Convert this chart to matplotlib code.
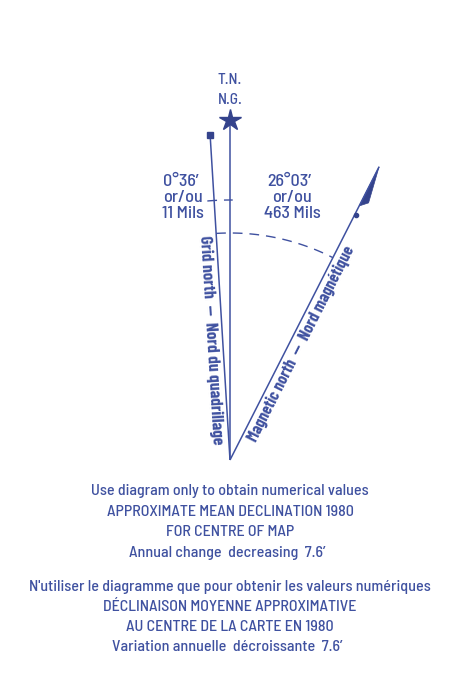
import numpy as np
import matplotlib
matplotlib.use("Agg")
import matplotlib.pyplot as plt
from matplotlib.patches import Polygon

# ---- data ----
line_names = ["Grid north", "True north", "Magnetic north"]
line_angles = [-3.5, 0.0, 26.95]          # degrees clockwise from true north (diagram, not to scale)
line_lengths = [326, 340, 329]            # diagram lengths
grid_label = ["0°36′", "or/ou", "11 Mils"]
mag_label = ["26°03′", "or/ou", "463 Mils"]
top_label = ["T.N.", "N.G."]
grid_axis_text = "Grid north  —  Nord du quadrillage"
mag_axis_text = "Magnetic north  —  Nord magnétique"
notes_en = ["Use diagram only to obtain numerical values",
            "APPROXIMATE MEAN DECLINATION 1980",
            "FOR CENTRE OF MAP",
            "Annual change  decreasing  7.6′"]
notes_fr = ["N'utiliser le diagramme que pour obtenir les valeurs numériques",
            "DÉCLINAISON MOYENNE APPROXIMATIVE",
            "AU CENTRE DE LA CARTE EN 1980",
            "Variation annuelle  décroissante  7.6′"]

BLUE = "#3f51a0"
DARK = "#34438c"
FONT = ["Barlow Semi Condensed", "DejaVu Sans"]
BFONT = ["Barlow Condensed", "DejaVu Sans"]

fig = plt.figure(figsize=(4.70, 6.77), dpi=100)
ax = fig.add_axes([0, 0, 1, 1])
ax.set_xlim(0, 470)
ax.set_ylim(677, 0)
ax.axis("off")

vx, vy = 230, 460

def pt(angle, r):
    a = np.radians(angle)
    return vx + r * np.sin(a), vy - r * np.cos(a)

ends = []
for ang, L in zip(line_angles, line_lengths):
    x1, y1 = pt(ang, L)
    ends.append((x1, y1))
    ax.plot([vx, x1], [vy, y1], color=BLUE, lw=1.1, solid_capstyle="butt")

# markers
ax.plot(*ends[0], marker="s", ms=4.5, color=DARK)
ax.plot(*ends[1], marker="*", ms=16, color=DARK, mec=DARK)

# half arrow on magnetic line
ang = line_angles[2]
L = line_lengths[2]
a = np.radians(ang)
u = np.array([np.sin(a), -np.cos(a)])
n = np.array([np.cos(a), np.sin(a)])
base = np.array([vx, vy])
poly = [base + u * L, base + u * (L - 37) + n * 7, base + u * (L - 44)]
ax.add_patch(Polygon(poly, closed=True, color=DARK, lw=0.5))
bump = base + u * (L - 53) + n * 1.5
ax.plot(*bump, marker="o", ms=3, color=DARK)

# dashed arcs
for r, a0, a1 in [(260, line_angles[0] - 1.5, line_angles[1] + 0.6),
                  (227, line_angles[0], line_angles[2])]:
    th = np.radians(np.linspace(a0, a1, 100))
    ax.plot(vx + r * np.sin(th), vy - r * np.cos(th), color=BLUE, lw=1.0,
            dashes=(7, 5))

# labels
kw = dict(ha="center", va="center", color=BLUE, family=FONT, fontweight="medium")
ax.text(230, 80, top_label[0], fontsize=11, **kw)
ax.text(230, 100, top_label[1], fontsize=11, **kw)
for i, s in enumerate(grid_label):
    ax.text(183, 181 + 16 * i, s, fontsize=13, **kw)
for i, s in enumerate(mag_label):
    ax.text(292, 181 + 16 * i, s, fontsize=13, **kw)

ax.text(211, 340, grid_axis_text, rotation=-86.5, rotation_mode="anchor",
        ha="center", va="center", fontsize=12.5, fontweight="bold", color=BLUE, family=BFONT)
ax.text(301, 344, mag_axis_text, rotation=90 - line_angles[2], rotation_mode="anchor",
        ha="center", va="center", fontsize=12, fontweight="bold", color=BLUE, family=BFONT)

for i, s in enumerate(notes_en):
    ax.text(230, 491 + 20.5 * i, s, fontsize=11.5, **kw)
for i, s in enumerate(notes_fr):
    ax.text(230, 587 + 20 * i, s, fontsize=11.5, **kw)

fig.savefig("out.png", dpi=100)
